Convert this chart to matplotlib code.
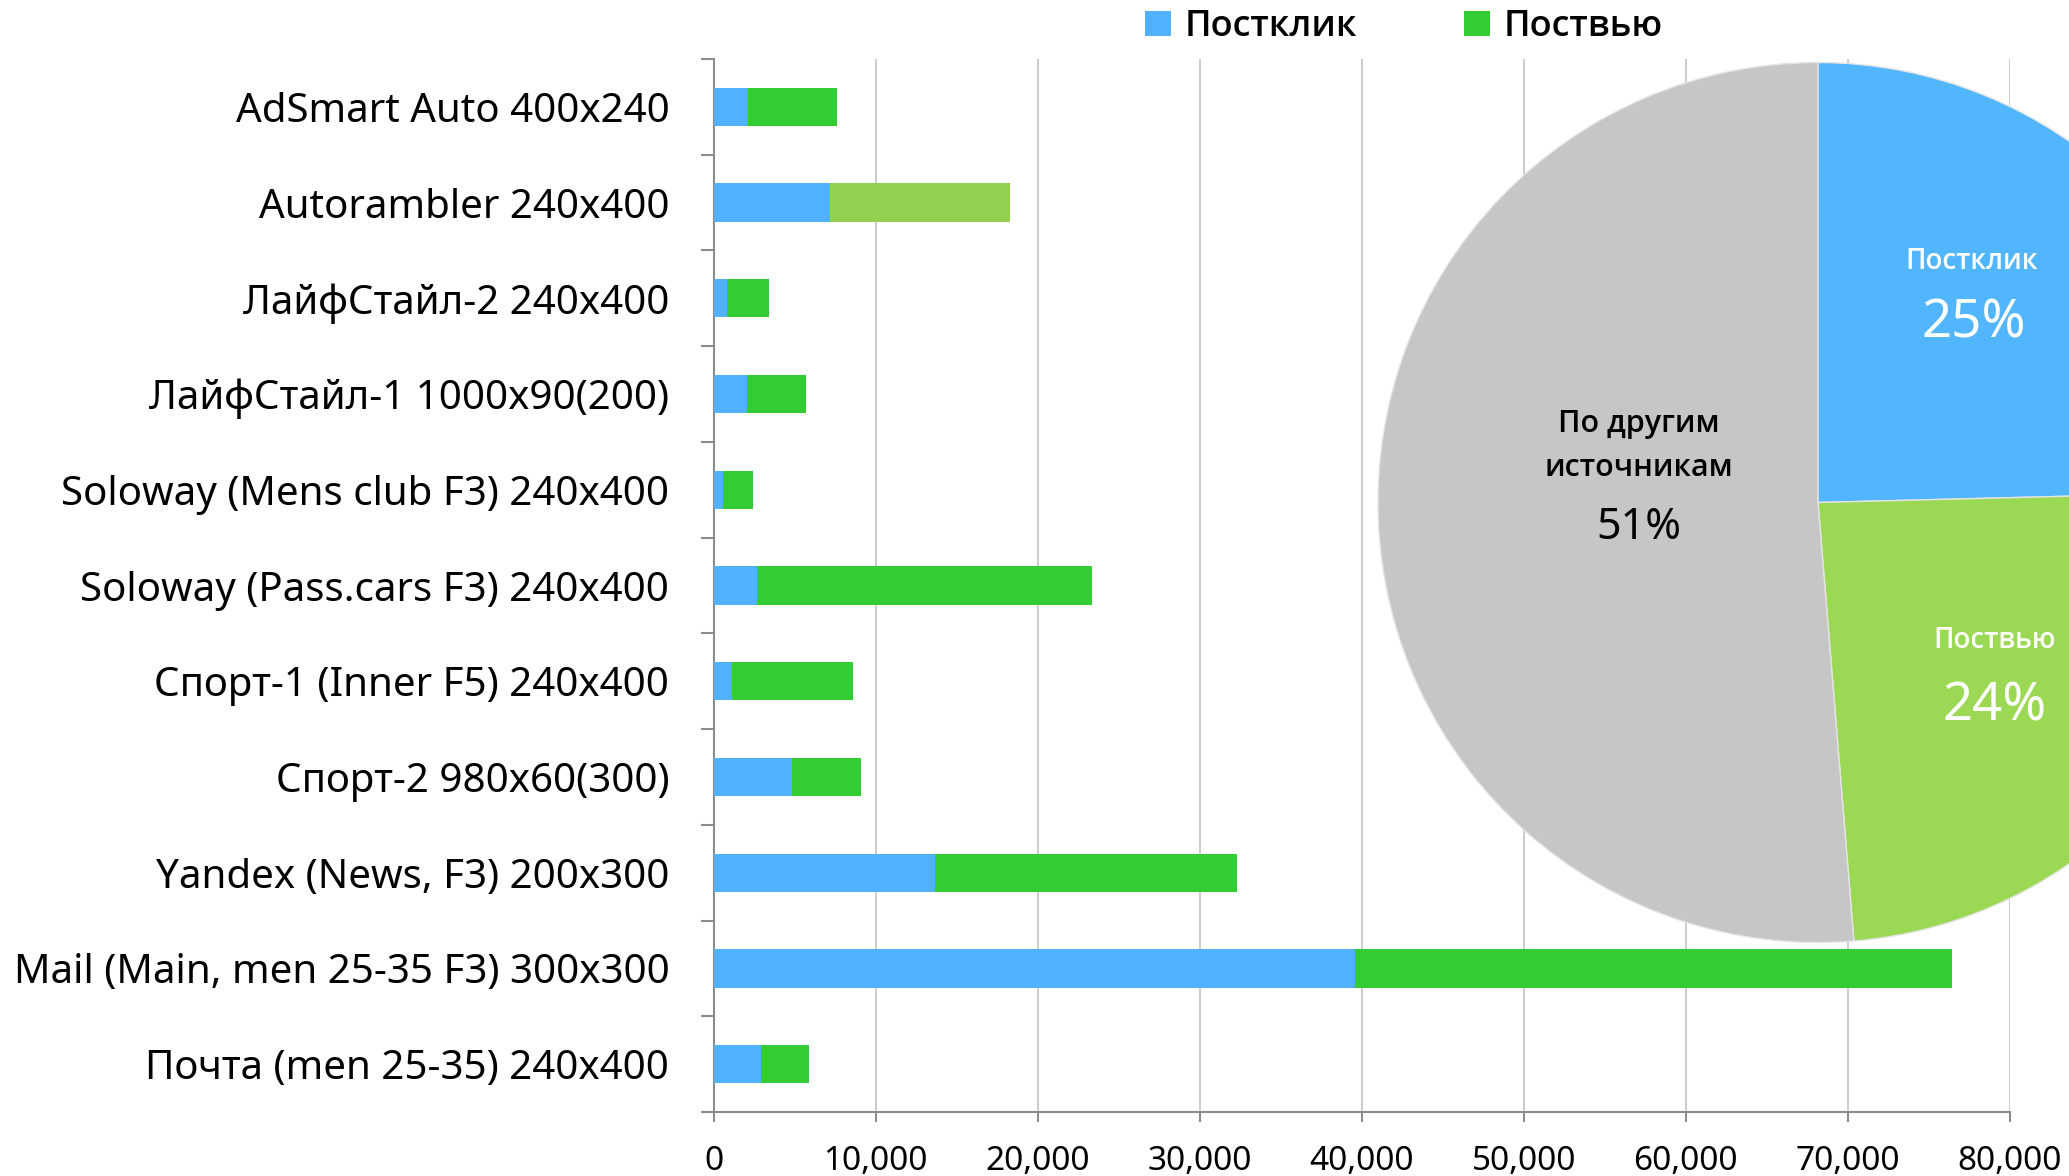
import numpy as np
import matplotlib
matplotlib.use("Agg")
import matplotlib.pyplot as plt
from matplotlib.ticker import FuncFormatter

plt.rcParams['font.family'] = ['Noto Sans', 'DejaVu Sans']

# ---------------- data ----------------
categories = [
    "AdSmart Auto 400x240",
    "Autorambler 240x400",
    "ЛайфСтайл-2 240x400",
    "ЛайфСтайл-1 1000x90(200)",
    "Soloway (Mens club F3) 240x400",
    "Soloway (Pass.cars F3) 240x400",
    "Спорт-1 (Inner F5) 240x400",
    "Спорт-2 980x60(300)",
    "Yandex (News, F3) 200x300",
    "Mail (Main, men 25-35 F3) 300x300",
    "Почта (men 25-35) 240x400",
]
postclick = [2100, 7200, 850, 2050, 600, 2700, 1100, 4850, 13650, 39600, 2950]
postview = [5500, 11100, 2550, 3650, 1800, 20650, 7500, 4250, 18650, 36850, 2950]
x_ticks = [0, 10000, 20000, 30000, 40000, 50000, 60000, 70000, 80000]
legend_labels = ["Постклик", "Поствью"]

pie_names = ["Постклик", "Поствью", "По другим\nисточникам"]
pie_values = [24.6, 24.1, 51.3]

# ---------------- layout ----------------
W, H = 2069, 1176
fig = plt.figure(figsize=(W / 100, H / 100), dpi=100)
fig.patch.set_facecolor("white")

x0_px, x1_px, ytop_px, ybot_px = 713.7, 2009.7, 59, 1112
ax = fig.add_axes([x0_px / W, 1 - ybot_px / H, (x1_px - x0_px) / W, (ybot_px - ytop_px) / H])

BLUE = "#4FB1FF"
GREEN = "#33CC33"
LIGHT_GREEN = "#92D050"
AXIS_GREY = "#8c8c8c"

y = np.arange(len(categories))
pv_colors = [LIGHT_GREEN if c.startswith("Autorambler") else GREEN for c in categories]

b1 = ax.barh(y, postclick, height=0.4, color=BLUE, linewidth=0, zorder=3)
b2 = ax.barh(y, postview, left=postclick, height=0.4, color=pv_colors, linewidth=0, zorder=3)

ax.set_xlim(x_ticks[0], x_ticks[-1])
ax.set_ylim(len(categories) - 0.5, -0.5)
ax.set_xticks(x_ticks)
ax.xaxis.set_major_formatter(FuncFormatter(lambda v, p: f"{int(v):,}"))
ax.set_yticks(y)
ax.set_yticklabels(categories)
ax.set_yticks(np.arange(-0.5, len(categories)), minor=True)

ax.tick_params(axis="y", which="major", length=0, pad=32, labelsize=29, labelcolor="black")
ax.tick_params(axis="y", which="minor", length=9.5, width=1.5, color=AXIS_GREY)
ax.tick_params(axis="x", which="major", length=7, width=1.5, color=AXIS_GREY,
               labelsize=24, pad=17)

ax.grid(axis="x", color="#c8c8c8", linewidth=1.3, zorder=0)
ax.set_axisbelow(True)
for s in ("top", "right"):
    ax.spines[s].set_visible(False)
for s in ("left", "bottom"):
    ax.spines[s].set_color(AXIS_GREY)
    ax.spines[s].set_linewidth(1.5)

# ---------------- pie ----------------
R = 440
cx, cy = 1818, 502.5
axp = fig.add_axes([(cx - R) / W, 1 - (cy + R) / H, 2 * R / W, 2 * R / H])
wedges, _ = axp.pie(pie_values, colors=["#52B6FE", "#9BD955", "#C6C6C6"],
                    startangle=90, counterclock=False, radius=1,
                    wedgeprops=dict(edgecolor="#e4e4e4", linewidth=1.0))
axp.set_xlim(-1, 1)
axp.set_ylim(-1, 1)
axp.axis("off")

SEMI = ["Open Sans", "Noto Sans", "DejaVu Sans"]
pct = [f"{round(v)}%" for v in pie_values]
name_pos = [(0.350, 0.547), (0.402, -0.3125), (-0.407, 0.128)]
pct_pos = [(0.355, 0.405), (0.402, -0.465), (-0.407, -0.058)]
txt_colors = ["white", "white", "black"]
name_sizes = [20, 20, 22]
pct_sizes = [38, 38, 31]
for i in range(3):
    axp.text(*name_pos[i], pie_names[i], ha="center", va="center",
             fontsize=name_sizes[i], family=SEMI, fontweight="semibold",
             color=txt_colors[i], linespacing=1.6)
    axp.text(*pct_pos[i], pct[i], ha="center", va="center", fontsize=pct_sizes[i],
             color=txt_colors[i])

# ---------------- legend ----------------
fig.legend([b1, b2], legend_labels, loc="center left",
           bbox_to_anchor=(1145 / W, 1 - 27 / H), ncol=2, frameon=False,
           prop={"size": 26, "weight": "semibold", "family": SEMI},
           handlelength=0.72, handleheight=0.72, handletextpad=0.38,
           columnspacing=2.95, borderpad=0, borderaxespad=0)

fig.savefig("out.png", dpi=100, facecolor="white")
